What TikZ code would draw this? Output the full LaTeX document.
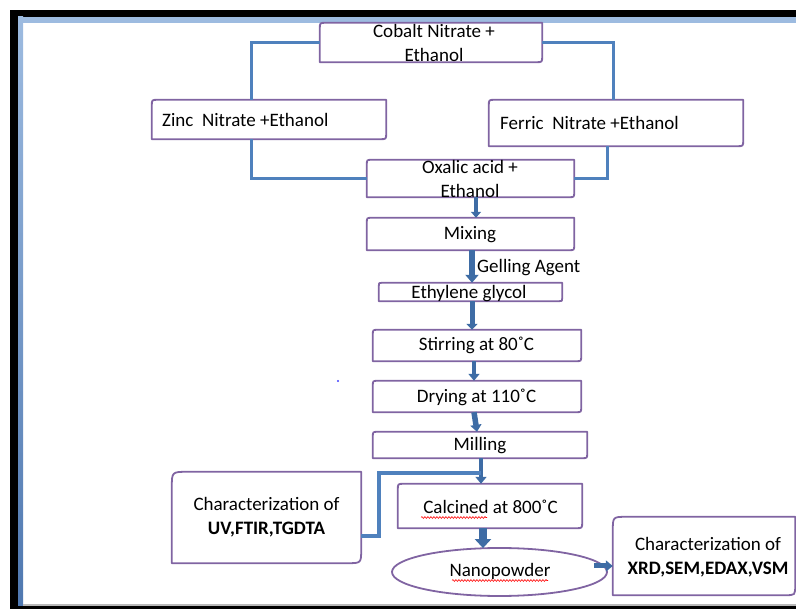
\documentclass[tikz,border=0pt]{standalone}
\usepackage{fontspec}
\setmainfont{Carlito}
\usetikzlibrary{arrows.meta,calc,shapes.geometric,decorations.pathmorphing}
\definecolor{boxpurple}{RGB}{128,100,162}
\definecolor{connblue}{RGB}{79,129,189}
\definecolor{arrblue}{RGB}{62,108,165}
\definecolor{framelight}{RGB}{157,187,224}
\definecolor{framedark}{RGB}{79,120,176}
\newcommand{\dround}[3]{%
  \draw[outline] (#1.south west) -- ($(#1.south east)+(-#3,0)$)
    .. controls (#1.south east) .. ($(#1.south east)+(0,-#3)$)
    -- (#1.north east) -- ($(#1.north west)+(#2,0)$)
    .. controls (#1.north west) .. ($(#1.north west)+(0,#2)$) -- cycle;}
\tikzset{
  outline/.style={draw=boxpurple, line width=1.8pt, line join=round},
  boxarea/.style={inner sep=0pt, draw=none},
  txt/.style={font=\fontsize{19}{24}\selectfont, inner sep=0pt, align=center},
  conn/.style={draw=connblue, line width=3pt},
  flowarrow/.style={draw=arrblue, line width=#1},
  squiggle/.style={draw=red, line width=0.6pt, decorate, decoration={snake, amplitude=0.9pt, segment length=3pt}}
}
\begin{document}
\begin{tikzpicture}[x=1pt, y=-1pt]
\useasboundingbox (0,0) rectangle (796,609);
% frame
\fill[black] (10,10) rectangle (796,17);
\fill[black] (10,10) rectangle (18,609);
\fill[black] (10,606) rectangle (796,609);
\fill[framelight] (18,17) rectangle (796,23);
\shade[top color=framelight, bottom color=framedark] (18,17) rectangle (23,606);
\fill[gray!55] (23,604.5) rectangle (796,606);
\fill[blue!75] (338,381) circle (1.2pt);

% box areas
\node[boxarea, minimum width=222pt, minimum height=39pt] (cob) at (431,42.5) {};
\node[boxarea, minimum width=234pt, minimum height=39pt] (zinc) at (269,119.5) {};
\node[boxarea, minimum width=254pt, minimum height=46pt] (fer) at (616,123) {};
\node[boxarea, minimum width=207pt, minimum height=37pt] (oxa) at (470.5,178.5) {};
\node[boxarea, minimum width=207pt, minimum height=32pt] (mix) at (470.5,234) {};
\node[boxarea, minimum width=183pt, minimum height=18pt] (eth) at (470.5,292) {};
\node[boxarea, minimum width=208pt, minimum height=31pt] (stir) at (477,345.5) {};
\node[boxarea, minimum width=208pt, minimum height=31pt] (dry) at (477,396.5) {};
\node[boxarea, minimum width=214pt, minimum height=26pt] (mill) at (480,445) {};
\node[boxarea, minimum width=184pt, minimum height=44pt] (calc) at (490,506) {};
\node[boxarea, minimum width=189pt, minimum height=91pt] (charL) at (266.5,517.5) {};
\node[boxarea, minimum width=182pt, minimum height=78pt] (charR) at (704,556) {};
\node[ellipse, outline, inner sep=0pt, minimum width=215pt, minimum height=48pt] (nano) at (499.5,572) {};

\dround{cob}{6}{6}
\dround{zinc}{6}{6}
\dround{fer}{6}{6}
\dround{oxa}{5}{5}
\dround{mix}{5}{5}
\dround{eth}{3}{3}
\dround{stir}{5}{5}
\dround{dry}{5}{5}
\dround{mill}{5}{5}
\dround{calc}{6}{6}
\dround{charL}{16}{14}
\dround{charR}{14}{10}

% texts
\node[txt] (cobT) at (434,42.5) {Cobalt Nitrate +\\Ethanol};
\node[txt, anchor=base west] (zincT) at (162,127) {Zinc\ \ Nitrate +Ethanol};
\node[txt, anchor=base west] (ferT) at (500,130) {Ferric\ \ Nitrate +Ethanol};
\node[txt] (oxaT) at (470,179) {Oxalic acid +\\Ethanol};
\node[txt, anchor=base] (mixT) at (470,240) {Mixing};
\node[txt, anchor=base] (ethT) at (469,299) {Ethylene glycol};
\node[txt, anchor=base] (stirT) at (476.5,351) {Stirring at 80˚C};
\node[txt, anchor=base] (dryT) at (476.5,403) {Drying at 110˚C};
\node[txt, anchor=base] (millT) at (480,451) {Milling};
\node[txt, anchor=base] (calcT) at (490.5,514) {Calcined at 800˚C};
\node[txt, anchor=base] (nanoT) at (500,577) {Nanopowder};
\node[txt] (charLT) at (266.5,517) {Characterization of\\\textbf{UV,FTIR,TGDTA}};
\node[txt] (charRT) at (708,557.5) {Characterization of\\\textbf{XRD,SEM,EDAX,VSM}};
\node[txt, anchor=base west] (gel) at (477,273) {Gelling Agent};

% spell-check underlines
\draw[squiggle] (421,517.5) -- (487,517.5);
\draw[squiggle] (452,580.5) -- (548,580.5);

% connectors
\draw[conn] (cob.west) -| ([xshift=-18pt]zinc.north);
\draw[conn] ([xshift=-18pt]zinc.south) |- (oxa.west);
\draw[conn] (cob.east) -| ([xshift=-3pt]fer.north);
\draw[conn] ([xshift=-9pt]fer.south) |- (oxa.east);

% flow arrows
\draw[flowarrow=3.5pt, -{Triangle[width=10pt,length=6pt]}] ([xshift=5.5pt]oxa.south) -- ([xshift=5.5pt]mix.north);
\draw[flowarrow=6pt, -{Triangle[width=13pt,length=8pt]}] ([xshift=1.5pt]mix.south) -- ([xshift=1.5pt]eth.north);
\draw[flowarrow=5pt, -{Triangle[width=11pt,length=6pt]}] ([xshift=1.5pt]eth.south) -- ([xshift=-5pt]stir.north);
\draw[flowarrow=4.5pt, -{Triangle[width=11pt,length=7pt]}] ([xshift=-3pt]stir.south) -- ([xshift=-3pt]dry.north);
\draw[flowarrow=5.5pt, -{Triangle[width=11pt,length=7pt]}] ([xshift=-3pt]dry.south) -- ([xshift=-3pt]mill.north);
\coordinate (j) at ($(mill.south)+(1,15)$);
\draw[flowarrow=4pt, -{Triangle[width=11pt,length=7pt]}] ([xshift=1pt]mill.south) -- (calc.north -| j);
\draw[conn, line width=4pt] ($(charL.east)+(0,18.5)$) -- ++(18,0) |- (j);
\draw[flowarrow=8pt, -{Triangle[width=16pt,length=9pt]}] ([xshift=-7pt]calc.south) -- ([xshift=-16.5pt,yshift=-1pt]nano.north);
\draw[flowarrow=5pt, -{Triangle[width=11pt,length=7pt]}] ([xshift=-14pt,yshift=6pt]nano.east) -- ([yshift=6pt]nano.east -| charR.west);
\end{tikzpicture}
\end{document}
